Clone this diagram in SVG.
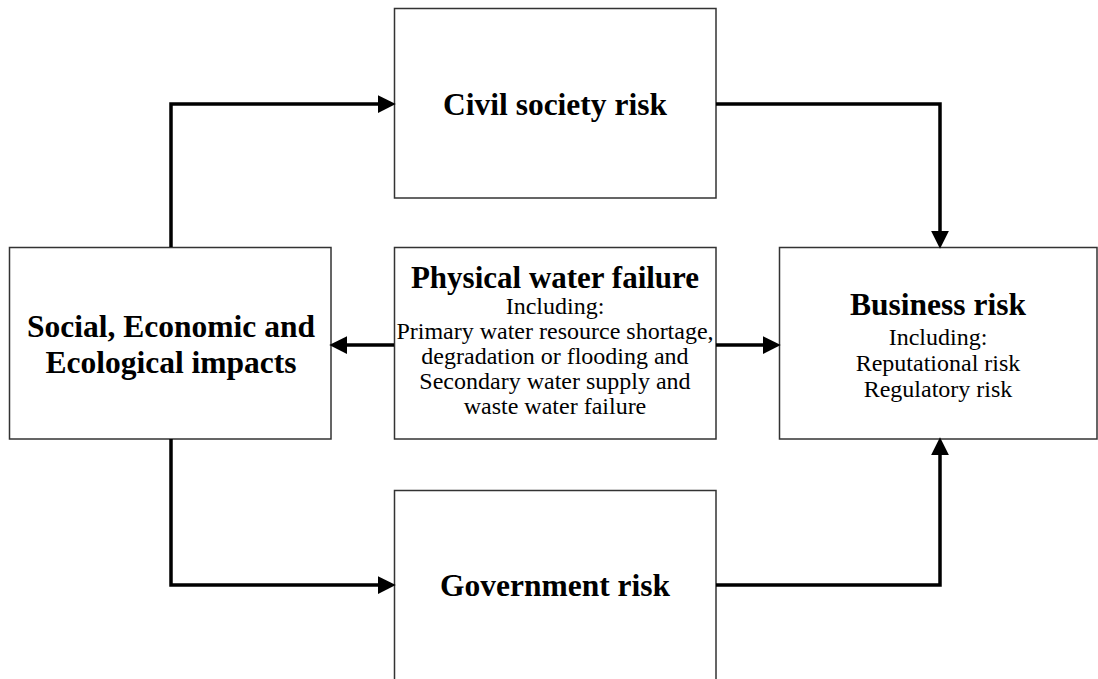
<svg xmlns="http://www.w3.org/2000/svg" width="1098" height="679" viewBox="0 0 1098 679">
<style>
.box{fill:#fff;stroke:#333;stroke-width:1.5}
.con{fill:none;stroke:#000;stroke-width:3.5;stroke-linejoin:miter}
.t{font-family:"Liberation Serif","Times New Roman",serif;font-weight:bold;font-size:31.5px;text-anchor:middle;fill:#000}
.s{font-family:"Liberation Serif","Times New Roman",serif;font-size:24px;text-anchor:middle;fill:#000}
</style>
<defs>
<marker id="ah" markerUnits="userSpaceOnUse" markerWidth="18" markerHeight="18" viewBox="0 0 16 16" refX="2" refY="8" orient="auto">
<path d="M0,0 L16,8 L0,16 Z" fill="#000"/>
</marker>
</defs>
<rect width="1098" height="679" fill="#fff"/>
<g id="civil">
<rect class="box" x="394.5" y="8.5" width="321.5" height="189.5"/>
<text class="t" x="555" y="115">Civil society risk</text>
</g>
<g id="impacts">
<rect class="box" x="9.5" y="247.5" width="321.5" height="191.5"/>
<text class="t" x="171" y="337">Social, Economic and</text>
<text class="t" x="171" y="373">Ecological impacts</text>
</g>
<g id="physical">
<rect class="box" x="394.5" y="247.5" width="321.5" height="191.5"/>
<text class="t" x="555" y="288" style="font-size:31px">Physical water failure</text>
<text class="s" x="555" y="314">Including:</text>
<text class="s" x="555" y="339">Primary water resource shortage,</text>
<text class="s" x="555" y="364">degradation or flooding and</text>
<text class="s" x="555" y="389">Secondary water supply and</text>
<text class="s" x="555" y="414">waste water failure</text>
</g>
<g id="business">
<rect class="box" x="779.5" y="247.5" width="317.5" height="191.5"/>
<text class="t" x="938" y="315">Business risk</text>
<text class="s" x="938" y="345">Including:</text>
<text class="s" x="938" y="371">Reputational risk</text>
<text class="s" x="938" y="397">Regulatory risk</text>
</g>
<g id="government">
<rect class="box" x="394.5" y="490.5" width="321.5" height="200"/>
<text class="t" x="555" y="596">Government risk</text>
</g>
<g id="connectors">
<path class="con" d="M171,247 L171,104 L380,104" marker-end="url(#ah)"/>
<path class="con" d="M716,104 L940,104 L940,233" marker-end="url(#ah)"/>
<path class="con" d="M394,345 L345,345" marker-end="url(#ah)"/>
<path class="con" d="M716,345 L765,345" marker-end="url(#ah)"/>
<path class="con" d="M171,439 L171,585 L380,585" marker-end="url(#ah)"/>
<path class="con" d="M716,585 L940,585 L940,453" marker-end="url(#ah)"/>
</g>
</svg>
